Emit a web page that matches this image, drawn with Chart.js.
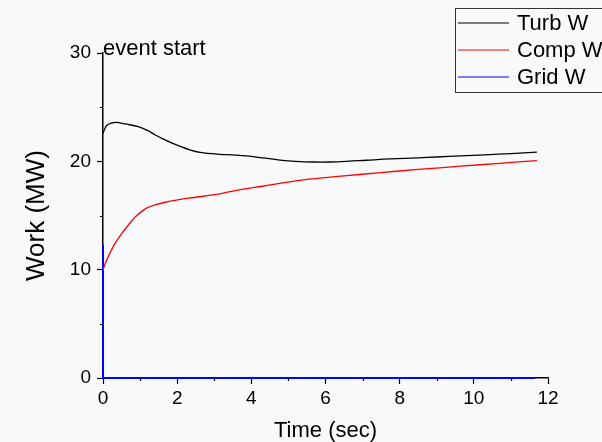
<!DOCTYPE html>
<html>
<head>
<meta charset="utf-8">
<script src="https://cdn.jsdelivr.net/npm/chart.js@4.4.1/dist/chart.umd.min.js"></script>
<style>
  html, body { margin: 0; padding: 0; background: #f8f9fb; }
  #wrap { width: 602px; height: 442px; position: relative; }
</style>
</head>
<body>
<div id="wrap"><canvas id="myChart"></canvas></div>
<script>
// turbine work (MW) vs time (sec)
const turbT = [0, 0.05, 0.1, 0.2, 0.36, 0.6, 0.95, 1.2, 1.4, 1.6, 1.85, 2.1, 2.3, 2.66, 3.15, 3.56, 3.87, 4.3, 4.77, 5.2, 5.68, 6.1, 6.58, 7.1, 7.75, 8.5, 9.0, 9.64, 10.3, 11.0, 11.7];
const turbW = [22.6, 23.0, 23.3, 23.5, 23.6, 23.45, 23.2, 22.85, 22.45, 22.1, 21.7, 21.35, 21.1, 20.8, 20.65, 20.58, 20.5, 20.32, 20.12, 20.0, 19.94, 19.94, 20.0, 20.1, 20.22, 20.32, 20.4, 20.5, 20.6, 20.72, 20.85];

// compressor work
const compT = [0, 0.1, 0.32, 0.5, 0.68, 0.85, 1.04, 1.2, 1.4, 1.65, 1.94, 2.3, 2.75, 3.15, 3.56, 4.3, 5.4, 6.5, 7.48, 8.5, 9.64, 10.7, 11.7];
const compW = [10, 10.9, 12.4, 13.3, 14.1, 14.8, 15.36, 15.72, 15.97, 16.2, 16.4, 16.6, 16.8, 17.0, 17.3, 17.7, 18.28, 18.65, 18.96, 19.25, 19.55, 19.82, 20.07];

// grid work
const gridT = [0, 0, 11.65];
const gridW = [12.3, 0, 0];

const seriesNames = ['Turb W', 'Comp W', 'Grid W'];
const seriesColors = ['#000000', '#ff0000', '#0000ff'];

const xMajor = 2, xMinor = 1;
const yMajor = 10, yMinor = 5;

const toPoints = (ts, vs) => ts.map((t, i) => ({ x: t, y: vs[i] }));

// minor ticks, legend box and the "event start" note
const extras = {
    id: 'extras',
    afterDraw(chart) {
        const c = chart.ctx;
        const xs = chart.scales.x, ys = chart.scales.y;
        const area = chart.chartArea;
        c.save();
        c.strokeStyle = '#000';
        c.lineWidth = 1.2;
        c.beginPath();
        for (let v = xMinor; v < xs.max; v += xMajor) {
            const px = Math.round(xs.getPixelForValue(v)) + 0.5;
            c.moveTo(px, area.bottom);
            c.lineTo(px, area.bottom + 3);
        }
        for (let v = yMinor; v < ys.max; v += yMajor) {
            const py = Math.round(ys.getPixelForValue(v)) + 0.5;
            c.moveTo(area.left, py);
            c.lineTo(area.left - 3, py);
        }
        c.stroke();

        c.fillStyle = '#000';
        c.font = '22px "Liberation Sans", Arial, sans-serif';
        c.textBaseline = 'alphabetic';
        c.textAlign = 'left';
        c.fillText('event start', xs.getPixelForValue(0), ys.getPixelForValue(30) + 2);

        // legend
        c.strokeStyle = '#333';
        c.lineWidth = 1;
        c.strokeRect(455.5, 8.5, 170, 84);
        c.textBaseline = 'middle';
        seriesNames.forEach((name, i) => {
            const y = 23 + i * 27;
            c.strokeStyle = seriesColors[i];
            c.lineWidth = 1;
            c.beginPath();
            c.moveTo(458, y);
            c.lineTo(509, y);
            c.stroke();
            c.fillStyle = '#000';
            c.fillText(name, 517, y + 1);
        });
        c.restore();
    }
};

const ctx = document.getElementById('myChart').getContext('2d');
const myChart = new Chart(ctx, {
    type: 'line',
    data: {
        datasets: [
            { label: seriesNames[0], data: toPoints(turbT, turbW), borderColor: seriesColors[0], borderWidth: 1.3, tension: 0.4 },
            { label: seriesNames[1], data: toPoints(compT, compW), borderColor: seriesColors[1], borderWidth: 1.3, tension: 0.4 },
            { label: seriesNames[2], data: toPoints(gridT, gridW), borderColor: seriesColors[2], borderWidth: 2, clip: false }
        ]
    },
    options: {
        responsive: true,
        maintainAspectRatio: false,
        animation: false,
        layout: { padding: { left: 0, right: 54, top: 53, bottom: 0 } },
        elements: { point: { radius: 0 } },
        plugins: { legend: { display: false }, tooltip: { enabled: false } },
        scales: {
            x: {
                type: 'linear',
                min: 0, max: 12,
                afterFit: (s) => { s.height = 64; },
                ticks: { stepSize: xMajor, color: '#000', padding: 3, font: { size: 19, family: '"Liberation Sans", Arial, sans-serif' } },
                grid: { drawOnChartArea: false, tickLength: 6, tickColor: '#000', tickWidth: 1.2 },
                border: { color: '#000', width: 1.5 },
                title: { display: true, text: 'Time (sec)', color: '#000', padding: { top: 0, bottom: 0 }, font: { size: 22, lineHeight: 1, family: '"Liberation Sans", Arial, sans-serif' } }
            },
            y: {
                min: 0, max: 30,
                afterFit: (s) => { s.width = 103; },
                ticks: { stepSize: yMajor, color: '#000', padding: 6, font: { size: 19, family: '"Liberation Sans", Arial, sans-serif' } },
                grid: { drawOnChartArea: false, tickLength: 6, tickColor: '#000', tickWidth: 1.2 },
                border: { color: '#000', width: 1.5 },
                title: { display: true, text: 'Work (MW)', color: '#000', padding: { top: 24, bottom: 0 }, font: { size: 26, lineHeight: 1, family: '"Liberation Sans", Arial, sans-serif' } }
            }
        }
    },
    plugins: [extras]
});
</script>
</body>
</html>
